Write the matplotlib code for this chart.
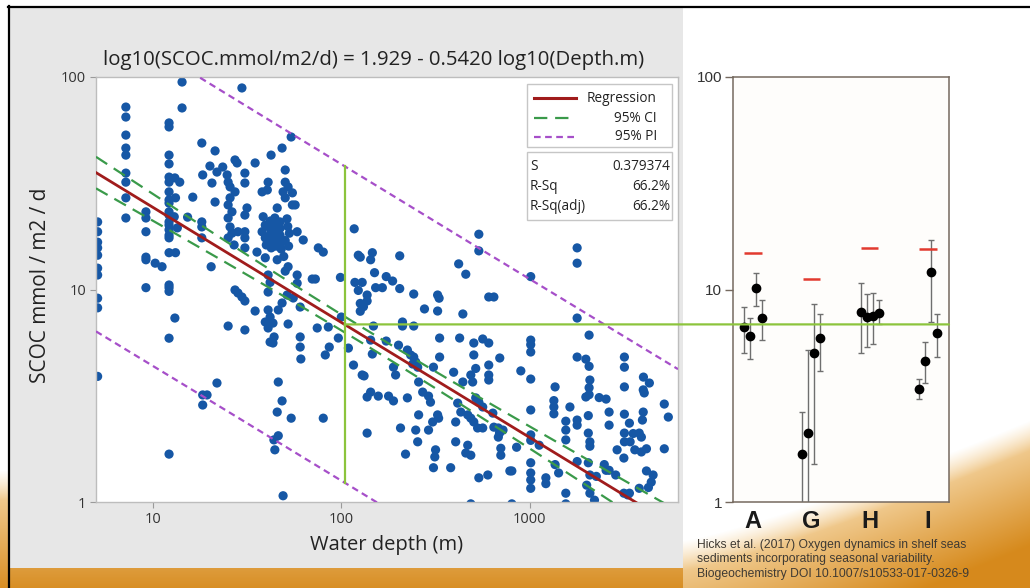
import numpy as np
import matplotlib.pyplot as plt
from matplotlib.patches import Rectangle, ConnectionPatch

W, H = 1030, 588

# Minitab fit: log10(SCOC) = b0 + b1 * log10(depth)
b0, b1 = 1.929, -0.5420
s_fit = 0.379374
r_sq, r_sq_adj = 66.2, 66.2
mark_depth = 104

# shelf stations (< 30 m)
shelf_depth = [5.1, 5.1, 5.1, 5.1, 5.1, 5.1, 5.1, 5.1, 5.1, 5.1,
               7.2, 7.2, 7.2, 7.2, 7.2, 7.2, 7.2, 7.2, 7.2,
               9.2, 9.2, 9.2, 9.2, 9.2, 9.2, 10.3, 11.2,
               12.2, 12.2, 12.2, 12.2, 12.2, 12.2, 12.2, 12.2, 12.2, 12.2, 12.2,
               12.2, 12.2, 12.2, 12.2, 12.2, 12.2, 12.2, 12.2, 12.2, 12.2, 12.2,
               13.1, 13.1, 13.9, 13.2, 13.2, 13.0, 13.5, 14.3, 14.3,
               15.3, 16.3, 18.2, 18.4, 18.2, 18.2, 18.2, 20.4,
               21.4, 20.1, 20.6, 21.4, 21.9, 18.4, 18.4, 19.4, 21.9,
               25.1, 23.5, 24.8, 25.1, 25.7, 27.3, 28.3, 27.3, 28.0,
               27.3, 25.7, 25.1, 26.3, 25.1, 25.7, 26.3, 28.3, 25.1, 27.0]
shelf_scoc = [20.8, 18.7, 16.7, 15.7, 14.5, 12.6, 11.7, 9.1, 8.2, 3.9,
              72.2, 64.8, 53.3, 46.3, 42.9, 35.3, 32.0, 27.0, 21.7,
              23.2, 21.7, 18.7, 14.2, 13.8, 10.2, 13.3, 12.8,
              60.8, 58.2, 42.9, 39.0, 33.8, 32.0, 28.8, 26.4, 25.5, 23.2, 22.4,
              20.8, 20.1, 19.1, 18.0, 17.5, 14.9, 10.5, 10.2, 9.8, 5.9, 1.68,
              7.34, 33.5, 32.0, 27.0, 14.9, 22.0, 19.5, 94.7, 71.5,
              21.9, 27.2, 48.9, 34.6, 20.8, 19.7, 17.5, 12.8,
              44.9, 38.1, 31.7, 25.8, 35.7, 2.86, 3.19, 3.19, 3.63,
              6.73, 37.7, 34.6, 32.0, 30.4, 9.95, 9.63, 40.7, 39.4,
              28.8, 27.0, 25.0, 23.2, 21.7, 19.7, 18.4, 18.7, 17.5, 16.2]

# inner shelf, 30-100 m
mid_depth = [29.7, 30.8, 30.8, 34.9, 40.9, 40.9, 41.9, 39.5, 43.4, 40.9,
             44.0, 41.9, 43.4, 46.3, 48.5, 52.2, 46.3, 48.5, 45.7, 54.2,
             46.3, 43.9, 44.4, 49.1, 60.5, 60.5, 61.0, 51.6, 55.6, 60.5,
             74.5, 85.3, 82.2, 86.3, 80.2, 96.4, 100, 29.7, 54.2, 48.5,
             42.4, 34.9, 50.4, 30.8, 30.8, 40.9, 38.0, 40.5, 50.4, 52.2,
             49.1, 55.0, 50.4, 55.0, 56.9, 45.7, 31.6, 30.8, 30.8, 30.8,
             30.8, 58.3, 62.8, 75.5, 80.2, 35.7, 39.5, 45.7, 49.5, 52.2,
             50.4, 40.9, 41.9, 58.3, 70.1, 72.8, 98.9, 58.3,
             38.5, 42.0, 44.4, 47.3, 51.5, 39.5,
             41.5, 44.4, 47.3, 52.0, 38.0, 42.0,
             44.4, 47.3, 53.0, 39.5, 41.9, 44.4,
             47.3, 50.4, 40.0, 42.5, 45.0, 48.0, 52.5]
mid_scoc = [9.22, 8.83, 6.45, 7.92, 9.73, 8.01, 7.42, 7.03, 6.95, 6.59,
            5.98, 5.66, 5.6, 8.01, 8.64, 6.88, 3.67, 2.99, 2.65, 2.48,
            2.05, 1.96, 1.76, 1.07, 5.98, 5.36, 4.71, 9.42, 9.12, 8.27,
            6.59, 6.66, 4.92, 5.36, 2.48, 5.91, 7.42, 88.8, 52.2, 46.3,
            42.9, 39.4, 36.5, 35.3, 31.7, 32.0, 28.8, 29.4, 32.0, 30.4,
            28.8, 28.5, 27.0, 25.0, 25.0, 24.2, 24.2, 22.4, 18.7, 17.5,
            15.7, 18.7, 17.1, 15.7, 15.0, 15.0, 14.1, 13.8, 14.3, 12.8,
            12.2, 11.7, 10.8, 11.7, 11.2, 11.2, 11.4, 10.7,
            22.0, 21.0, 21.7, 20.8, 21.5, 20.1,
            19.6, 20.1, 19.4, 19.8, 18.7, 18.2,
            18.7, 18.0, 18.4, 17.5, 16.9, 17.3,
            16.5, 17.0, 16.2, 15.7, 16.0, 15.5, 16.0]

# shelf edge and slope, 100-1000 m
slope_depth = [109, 116, 129, 123, 126, 126, 117, 123, 118, 129,
               536, 536, 419, 457, 204, 146, 143, 150, 173, 187,
               152, 165, 204, 137, 137, 131, 242, 324, 330, 324,
               276, 605, 644, 441, 148, 211, 211, 242, 143, 173,
               201, 224, 233, 242, 248, 254, 239, 332, 424, 332,
               308, 146, 189, 194, 132, 143, 137, 157, 178, 189,
               224, 257, 270, 290, 297, 394, 441, 504, 516, 486,
               497, 504, 562, 605, 605, 605, 605, 692, 414, 430,
               468, 486, 504, 528, 562, 516, 536, 562, 636, 644,
               680, 690, 720, 680, 324, 328, 305, 404, 257, 206,
               248, 290, 137, 254, 316, 313, 219, 404, 468, 457,
               486, 308, 380, 536, 598, 701, 701, 783, 126, 486]
slope_scoc = [5.3, 4.41, 3.96, 9.9, 8.6, 7.9, 19.3, 14.5, 10.8, 10.8,
              18.2, 15.2, 13.2, 11.8, 14.4, 14.9, 13.8, 12.0, 11.5, 10.96,
              10.2, 10.2, 10.1, 9.42, 8.83, 8.3, 9.52, 9.42, 9.1, 7.92,
              8.1, 9.22, 9.22, 7.67, 6.73, 7.03, 6.73, 6.73, 5.78, 5.72,
              5.47, 5.19, 4.92, 4.81, 4.56, 4.31, 4.46, 5.91, 5.91, 4.81,
              4.31, 4.97, 4.31, 3.96, 3.92, 3.29, 3.12, 3.15, 3.15, 2.99,
              3.09, 3.67, 3.29, 3.15, 2.95, 4.08, 3.67, 4.92, 4.25, 3.96,
              3.67, 5.6, 5.85, 5.6, 4.41, 3.96, 3.75, 4.76, 2.92, 2.65,
              2.57, 2.48, 2.38, 2.23, 2.23, 3.09, 2.95, 2.8, 2.62, 2.25,
              2.23, 2.11, 2.18, 2.02, 2.57, 2.48, 2.38, 2.38, 2.57, 2.23,
              2.18, 2.18, 2.11, 1.92, 1.76, 1.63, 1.68, 1.92, 1.85, 1.7,
              1.66, 1.45, 1.45, 1.3, 1.34, 1.79, 1.66, 1.4, 14.2, 0.98]

# deep sea, > 800 m
deep_depth = [1010, 1010, 1010, 895, 1010, 1010, 1360, 1340, 1340, 1340,
              1010, 1010, 1120, 850, 802, 1010, 1010, 1010, 1010, 1215,
              1215, 1360, 1420, 1550, 1630, 1780, 2060, 1780, 1980, 2060,
              2080, 2060, 2060, 1980, 2330, 2535, 1780, 1780, 2040, 1550,
              1550, 1550, 2630, 2040, 2080, 2080, 1780, 2040, 2480, 2535,
              2080, 2250, 2000, 2080, 2200, 3170, 3990, 4040, 4300, 5160,
              5420, 2630, 3170, 3990, 3950, 3370, 3170, 3530, 3800, 3900,
              3170, 3400, 3600, 3900, 4150, 5160, 3150, 2630, 2850, 4150,
              4500, 3800, 4250, 4400, 3150, 3370, 3170, 3170, 4000, 2900,
              3300, 1010, 1780, 1780, 802, 1550]
deep_scoc = [5.78, 5.5, 5.08, 4.14, 3.79, 2.71, 3.48, 3.0, 2.8, 2.6,
             2.07, 1.95, 1.85, 1.81, 1.4, 1.53, 1.37, 1.27, 1.16, 1.3,
             1.22, 1.5, 1.37, 1.1, 2.8, 7.34, 6.1, 4.81, 4.7, 4.35,
             3.75, 3.45, 3.2, 3.12, 3.1, 3.05, 2.43, 2.3, 2.55, 2.4,
             2.18, 1.96, 2.3, 2.11, 1.92, 1.83, 1.55, 1.53, 1.5, 1.41,
             1.34, 1.32, 1.2, 1.1, 1.02, 3.48, 3.37, 3.26, 3.63, 2.89,
             2.51, 2.65, 2.59, 2.65, 2.43, 2.35, 2.11, 2.1, 2.11, 2.02,
             1.92, 1.92, 1.76, 1.72, 1.78, 1.78, 1.61, 1.41, 1.34, 1.4,
             1.34, 1.16, 1.17, 1.24, 1.1, 1.1, 4.81, 4.31, 3.87, 1.76,
             1.08, 11.5, 15.7, 13.3, 0.98, 0.98]

# site means with seasonal values for the four stations
sites = ['A', 'G', 'H', 'I']
site_mean = [14.9, 11.2, 15.7, 15.5]
site_vals = [[6.66, 6.04, 10.2, 7.34],
             [1.68, 2.11, 5.03, 5.91],
             [7.84, 7.42, 7.5, 7.75],
             [3.4, 4.61, 12.1, 6.24]]
site_lo = [[5.03, 4.71, 8.36, 5.78],
           [0.5, 0.6, 1.51, 4.13],
           [5.03, 5.36, 5.54, 6.88],
           [3.05, 3.63, 7.03, 4.81]]
site_hi = [[8.27, 7.34, 11.96, 8.93],
           [2.65, 5.19, 8.55, 7.67],
           [10.7, 9.52, 9.63, 8.93],
           [3.79, 5.66, 17.1, 7.67]]

dot_blue = '#1657a5'
reg_red = '#a01c1c'
ci_green = '#3a9a4a'
pi_purple = '#a64fc9'
mark_green = '#8cc43c'

fig = plt.figure(figsize=(W / 100, H / 100), dpi=100)


def box(x0, y0, x1, y1):
    return [x0 / W, 1 - y1 / H, (x1 - x0) / W, (y1 - y0) / H]


# slide background: white with an orange sweep at the bottom
bg = fig.add_axes([0, 0, 1, 1], zorder=-5)
yy, xx = np.mgrid[0:H, 0:W].astype(float)
u = np.clip((xx - 683) / 347, 0, 1)
edge = np.where(xx < 683, 470, 540 - 120 * u ** 1.2)
soft = np.clip((yy - edge) / 30, 0, 1)[..., None]
shade = np.clip((yy - edge) / 125, 0, 1)[..., None]
light = np.array([0.97, 0.86, 0.68])
dark = np.array([0.84, 0.54, 0.11])
img = (1 - soft) + soft * (light + (dark - light) * shade)
bg.imshow(img, extent=[0, W, H, 0], aspect='auto', interpolation='bilinear')
bg.set_xlim(0, W)
bg.set_ylim(H, 0)
bg.axis('off')
bg.add_patch(Rectangle((10, 8), 673, 560, color='#e7e7e7', lw=0))
bg.plot([9, 9], [6, H], color='black', lw=1.6)
bg.plot([8, W], [7, 7], color='black', lw=1.6)

# ---- regression panel ----
ax = fig.add_axes(box(96, 77, 678, 502))
ax.set_xscale('log')
ax.set_yscale('log')
ax.set_xlim(5, 6100)
ax.set_ylim(1, 100)

for d, v in [(shelf_depth, shelf_scoc), (mid_depth, mid_scoc),
             (slope_depth, slope_scoc), (deep_depth, deep_scoc)]:
    ax.scatter(d, v, s=44, color=dot_blue, edgecolors='none', zorder=2)

all_lx = np.log10(np.concatenate([shelf_depth, mid_depth, slope_depth, deep_depth]))
n = len(all_lx)
xbar = all_lx.mean()
sxx = ((all_lx - xbar) ** 2).sum()
t95 = 1.96

lg = np.linspace(np.log10(5), np.log10(6100), 200)
fit = b0 + b1 * lg
se_ci = s_fit * np.sqrt(1 / n + (lg - xbar) ** 2 / sxx)
se_pi = s_fit * np.sqrt(1 + 1 / n + (lg - xbar) ** 2 / sxx)
xg = 10 ** lg

ax.plot(xg, 10 ** fit, color=reg_red, lw=2, zorder=4)
for sgn in (-1, 1):
    ax.plot(xg, 10 ** (fit + sgn * t95 * se_ci), color=ci_green, lw=1.6,
            ls=(0, (6, 3.5)), zorder=3)
    ax.plot(xg, 10 ** (fit + sgn * t95 * se_pi), color=pi_purple, lw=1.6,
            ls=(0, (3, 2)), zorder=3)

# prediction interval at the marked depth
lm = np.log10(mark_depth)
mark_fit = b0 + b1 * lm
mark_pi = t95 * s_fit * np.sqrt(1 + 1 / n + (lm - xbar) ** 2 / sxx)
ax.plot([mark_depth, mark_depth], [10 ** (mark_fit - mark_pi), 10 ** (mark_fit + mark_pi)],
        color=mark_green, lw=1.6, zorder=6)

ax.minorticks_off()
ax.set_xticks([10, 100, 1000], ['10', '100', '1000'])
ax.set_yticks([1, 10, 100], ['1', '10', '100'])
ax.tick_params(length=4, width=0.8, color='#9a9a9a', labelsize=10.5,
               labelcolor='#333333', pad=3)
for lab in ax.get_xticklabels() + ax.get_yticklabels():
    lab.set_family('Open Sans')
for sp in ax.spines.values():
    sp.set_color('#bdbdbd')
    sp.set_linewidth(1)

fig.text(374 / W, 1 - 60 / H, 'log10(SCOC.mmol/m2/d) = %.3f - %.4f log10(Depth.m)' % (b0, -b1),
         ha='center', va='center', fontsize=14.7, family='Open Sans', color='#222222')
fig.text(41 / W, 1 - 285 / H, 'SCOC mmol / m2 / d', rotation=90, ha='center', va='center',
         fontsize=15, family='Open Sans', color='#222222')
fig.text(387 / W, 1 - 545 / H, 'Water depth (m)', ha='center', va='center',
         fontsize=14.5, family='Open Sans', color='#222222')

# legend and summary boxes
ov = fig.add_axes([0, 0, 1, 1], zorder=3)
ov.set_xlim(0, W)
ov.set_ylim(H, 0)
ov.axis('off')
ov.patch.set_alpha(0)
ov.add_patch(Rectangle((527, 84), 145, 63, fc='white', ec='#c6c6c6', lw=1))
ov.add_patch(Rectangle((527, 152), 145, 68, fc='white', ec='#c6c6c6', lw=1))
ov.plot([534, 576], [98, 98], color=reg_red, lw=2.2)
ov.plot([534, 576], [118, 118], color=ci_green, lw=1.6, ls=(0, (6, 3.5)))
ov.plot([534, 576], [137, 137], color=pi_purple, lw=1.6, ls=(0, (3, 2)))
lkw = dict(fontsize=9.8, family='Open Sans', color='#222222', va='center')
ov.text(657, 98, 'Regression', ha='right', **lkw)
ov.text(657, 118, '95% CI', ha='right', **lkw)
ov.text(657, 137, '95% PI', ha='right', **lkw)
ov.text(530, 166, 'S', ha='left', **lkw)
ov.text(670, 166, '%.6f' % s_fit, ha='right', **lkw)
ov.text(530, 187, 'R-Sq', ha='left', **lkw)
ov.text(670, 187, '%.1f%%' % r_sq, ha='right', **lkw)
ov.text(530, 206, 'R-Sq(adj)', ha='left', **lkw)
ov.text(670, 206, '%.1f%%' % r_sq_adj, ha='right', **lkw)

# ---- station panel ----
ax2 = fig.add_axes(box(733, 77, 949, 502), facecolor='#fefdfb')
ax2.set_yscale('log')
ax2.set_ylim(1, 100)
ax2.set_xlim(-0.345, 3.36)
offsets = [-0.155, -0.052, 0.052, 0.155]
for i in range(len(sites)):
    xs = [i + o for o in offsets]
    v = np.array(site_vals[i])
    yerr = [v - np.array(site_lo[i]), np.array(site_hi[i]) - v]
    ax2.errorbar(xs, v, yerr=yerr, fmt='o', color='black', ms=6,
                 ecolor='#6f6f6f', elinewidth=1, capsize=2.5, capthick=1, zorder=3)
    ax2.hlines(site_mean[i], i - 0.15, i + 0.15, color='#e23a2f', lw=1.8, zorder=3)

ax2.minorticks_off()
ax2.set_yticks([1, 10, 100], ['1', '10', '100'])
ax2.set_xticks(range(len(sites)), sites)
ax2.tick_params(axis='y', length=6, width=1, color='#75695f', labelsize=11,
                labelcolor='#333333', pad=2)
ax2.tick_params(axis='x', length=0, pad=6, labelsize=17, labelcolor='#1a1a1a')
for lab in ax2.get_yticklabels():
    lab.set_family('Liberation Sans')
for lab in ax2.get_xticklabels():
    lab.set_family('Liberation Sans')
    lab.set_fontweight('bold')
for sp in ax2.spines.values():
    sp.set_color('#75695f')
    sp.set_linewidth(1.1)

# link the marked depth across to the station panel
con = ConnectionPatch(xyA=(mark_depth, 10 ** mark_fit), coordsA=ax.transData,
                      xyB=(1, 10 ** mark_fit), coordsB=ax2.get_yaxis_transform(),
                      color=mark_green, lw=1.6, zorder=10)
fig.add_artist(con)

fig.text(697 / W, 1 - 539 / H,
         'Hicks et al. (2017) Oxygen dynamics in shelf seas\n'
         'sediments incorporating seasonal variability.\n'
         'Biogeochemistry DOI 10.1007/s10533-017-0326-9',
         ha='left', va='top', fontsize=8.7, family='Liberation Sans',
         color='#3f3a33', linespacing=1.25, transform=fig.transFigure)

fig.savefig('out.png', dpi=100)
